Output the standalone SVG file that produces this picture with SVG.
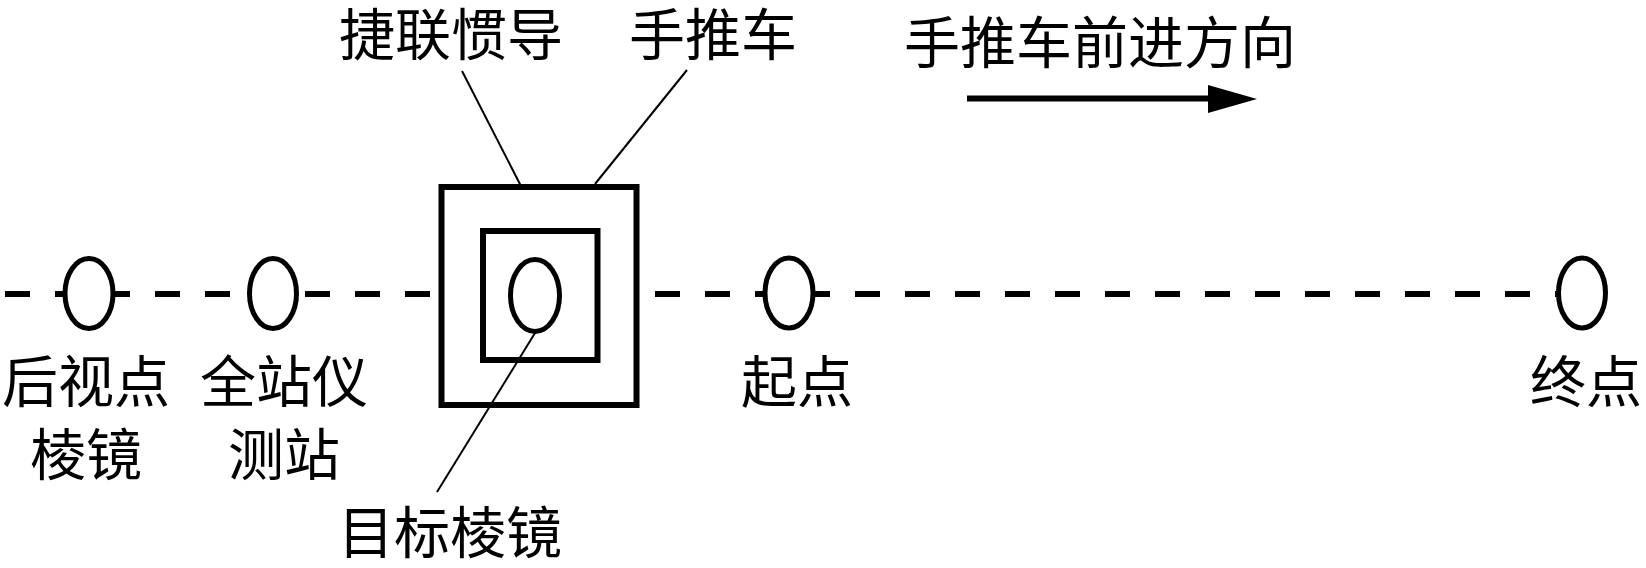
<svg xmlns="http://www.w3.org/2000/svg" width="1646" height="568" viewBox="0 0 1646 568">
<style>
text{font-family:"Noto Sans CJK SC","Noto Sans",sans-serif;font-size:56px;fill:#000;text-anchor:middle}
.pt{fill:#fff;stroke:#000;stroke-width:5}
.box{fill:#fff;stroke:#000;stroke-width:6}
.lead{fill:none;stroke:#000;stroke-width:2}
</style>
<rect width="1646" height="568" fill="#fff"/>
<g id="connectors">
<line x1="5" y1="294" x2="1580" y2="294" stroke="#000" stroke-width="6" stroke-dasharray="25 25"/>
<line class="lead" x1="462" y1="71" x2="543" y2="229"/>
<line class="lead" x1="687" y1="70" x2="595" y2="184"/>
<line x1="967" y1="98.5" x2="1212" y2="98.5" stroke="#000" stroke-width="6"/>
<polygon points="1208,85 1257,99 1208,113" fill="#000"/>
</g>
<g id="trolley">
<rect class="box" x="441.5" y="187" width="195" height="218"/>
<rect class="box" x="483" y="231" width="114.5" height="129"/>
<ellipse class="pt" cx="535" cy="295.5" rx="24.5" ry="36"/>
<line class="lead" x1="535" y1="333" x2="437" y2="492"/>
</g>
<g id="backsight">
<ellipse class="pt" cx="89" cy="293.5" rx="24" ry="35"/>
<text x="86" y="402">后视点</text>
<text x="86" y="475">棱镜</text>
</g>
<g id="station">
<ellipse class="pt" cx="273" cy="293.5" rx="23.5" ry="35"/>
<text x="284" y="402">全站仪</text>
<text x="284" y="475">测站</text>
</g>
<g id="start">
<ellipse class="pt" cx="789" cy="293" rx="24" ry="35"/>
<text x="797" y="402">起点</text>
</g>
<g id="end">
<ellipse class="pt" cx="1582" cy="293" rx="23.5" ry="35"/>
<text x="1586" y="402">终点</text>
</g>
<g id="labels">
<text x="451" y="55">捷联惯导</text>
<text x="713" y="55">手推车</text>
<text x="1100" y="63">手推车前进方向</text>
<text x="450" y="553">目标棱镜</text>
</g>
</svg>
